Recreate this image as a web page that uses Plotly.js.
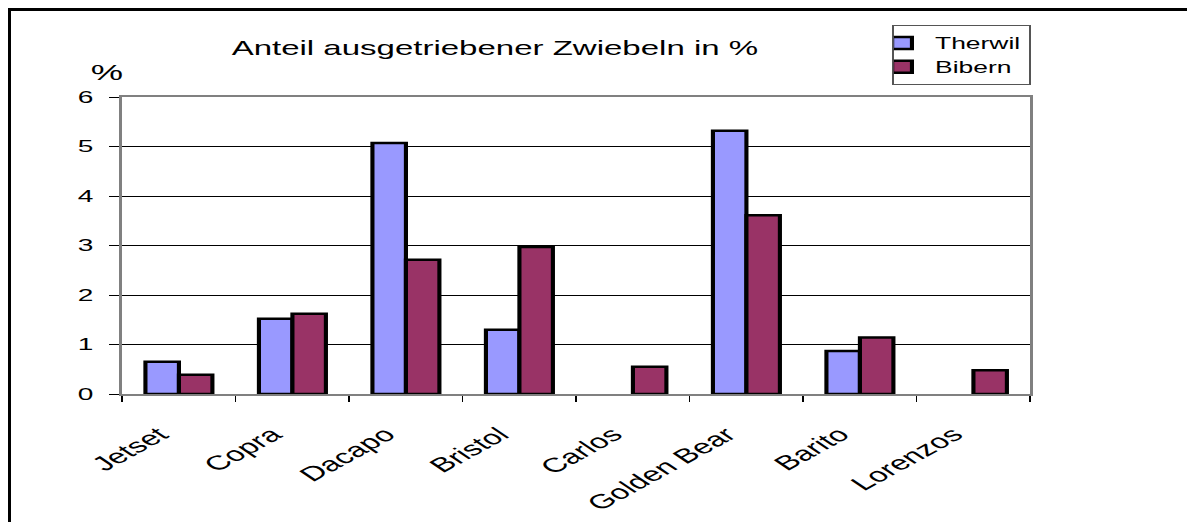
<!DOCTYPE html>
<html>
<head>
<meta charset="utf-8">
<script src="https://cdn.plot.ly/plotly-3.0.1.min.js"></script>
<style>
  html, body { margin: 0; padding: 0; background: #fff; overflow: hidden; }
  #wrap { position: absolute; left: 0; top: 0; width: 1187px; height: 522px; overflow: hidden; }
  #plot { position: absolute; left: 0; top: 0; width: 719px; height: 522px; transform: scaleX(1.6509); transform-origin: 0 0; }
  #frame { position: absolute; left: 8px; top: 8px; width: 1300px; height: 700px; border-left: 3px solid #000; border-top: 3px solid #000; pointer-events: none; }
</style>
</head>
<body>
<div id="wrap">
  <div id="plot"></div>
  <div id="frame"></div>
</div>
<script>
const categories = ['Jetset', 'Copra', 'Dacapo', 'Bristol', 'Carlos', 'Golden Bear', 'Barito', 'Lorenzos'];
const therwil = [0.65, 1.52, 5.07, 1.30, null, 5.32, 0.87, null];
const bibern  = [0.39, 1.62, 2.71, 2.97, 0.55, 3.61, 1.14, 0.48];
const yTicks = [0, 1, 2, 3, 4, 5, 6];
const seriesNames = ['Therwil', 'Bibern'];
const titleText = 'Anteil ausgetriebener Zwiebeln in %';
const unitText = '%';

const FONT = 'Liberation Sans, Arial, sans-serif';

const traces = [
  {
    type: 'bar', name: seriesNames[0], x: categories, y: therwil,
    legendgroup: 'a',
    marker: { color: '#9999FF', line: { color: '#000000', width: 2.5 } }
  },
  {
    type: 'bar', name: seriesNames[1], x: categories, y: bibern,
    legendgroup: 'b',
    marker: { color: '#993366', line: { color: '#000000', width: 2.5 } }
  }
];

const layout = {
  width: 719, height: 522,
  margin: { l: 74, r: 95, t: 97, b: 128, pad: 0 },
  paper_bgcolor: '#ffffff', plot_bgcolor: '#ffffff',
  font: { family: FONT, color: '#000000', size: 16 },
  barmode: 'group', bargap: 0.41, bargroupgap: 0,
  showlegend: true,
  title: {
    text: titleText, font: { family: FONT, size: 20, color: '#000' },
    xref: 'paper', x: 0.4105, xanchor: 'center',
    yref: 'paper', y: 1.18, yanchor: 'middle'
  },
  legend: {
    x: 0.848, y: 1.2424, xanchor: 'left', yanchor: 'top',
    bgcolor: '#ffffff', bordercolor: '#555555', borderwidth: 1,
    font: { family: FONT, size: 16, color: '#000' },
    traceorder: 'grouped', tracegroupgap: 0,
    itemwidth: 30, indentation: -15
  },
  xaxis: {
    type: 'category', range: [-0.5, 7.5],
    showline: true, linecolor: '#808080', linewidth: 2, mirror: true,
    showgrid: false, zeroline: false,
    ticks: 'outside', tickson: 'boundaries', ticklen: 6, tickcolor: '#000', tickwidth: 1,
    tickangle: -42,
    ticklabelshift: -12, ticklabelstandoff: 19,
    tickfont: { family: FONT, size: 20, color: '#000' }
  },
  yaxis: {
    range: [0, 6], tickvals: yTicks, ticktext: yTicks.map(String),
    showline: true, linecolor: '#808080', linewidth: 2, mirror: true,
    showgrid: true, gridcolor: '#000000', gridwidth: 1,
    zeroline: false,
    ticks: 'outside', ticklen: 6, tickcolor: '#000', tickwidth: 1,
    ticklabelstandoff: 6,
    tickfont: { family: FONT, size: 17, color: '#000' }
  },
  annotations: [
    {
      text: unitText, xref: 'paper', yref: 'paper', x: -0.0167, y: 1.084,
      xanchor: 'center', yanchor: 'middle', showarrow: false,
      font: { family: FONT, size: 22, color: '#000' }
    }
  ]
};

Plotly.newPlot('plot', traces, layout, { staticPlot: true, displayModeBar: false });
</script>
</body>
</html>
